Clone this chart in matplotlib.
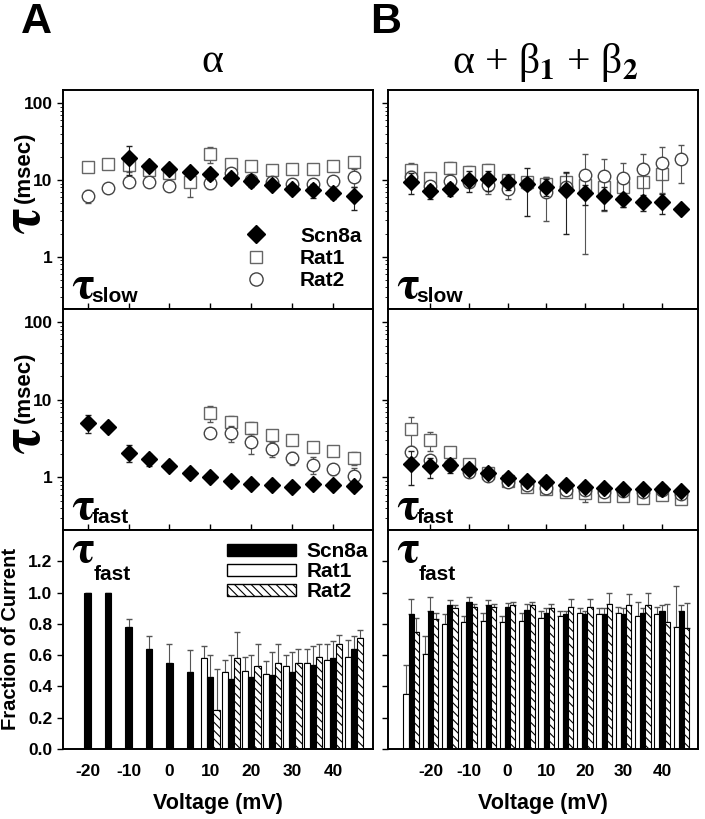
import numpy as np
import matplotlib
matplotlib.use('Agg')
import matplotlib.pyplot as plt
from matplotlib.patches import Patch
from matplotlib.lines import Line2D
from matplotlib.ticker import FixedLocator, LogLocator, NullFormatter

plt.rcParams['font.family'] = ['Liberation Sans', 'DejaVu Sans']
plt.rcParams['font.weight'] = 'bold'
plt.rcParams['mathtext.fontset'] = 'stix'
plt.rcParams['hatch.linewidth'] = 0.8
SERIF = ['Liberation Serif', 'DejaVu Serif']
TAU = r'$\mathrm{\tau}$'
nan = np.nan

# ---- data ----
volt_a = [-20, -15, -10, -5, 0, 5, 10, 15, 20, 25, 30, 35, 40, 45]
volt_b = [-25, -20, -15, -10, -5, 0, 5, 10, 15, 20, 25, 30, 35, 40, 45]

# tau slow, alpha only
slow_a_scn = [nan, nan, 19.5, 15.2, 13.8, 12.8, 11.9, 10.7, 9.7, 8.6, 7.6, 7.3, 6.7, 6.1]
slow_a_scn_err = [nan, nan, 8, 2, 1.5, 1.5, 2, 1.5, 1.5, 1, 1, 1.5, 1, 2]
slow_a_rat1 = [14.6, 16.1, 15.7, 13.5, 12.4, 9.5, 21.6, 16.0, 15.2, 13.4, 13.8, 14.0, 15.2, 17.3]
slow_a_rat1_err = [1, 1, 3, 1.5, 1, 3.5, 5, 1.5, 2, 1, 1, 1.5, 1.5, 2]
slow_a_rat2 = [6.25, 7.9, 9.3, 9.4, 8.4, nan, 9.05, 12.2, 10.0, 9.5, 9.0, 8.9, 9.8, 11.0]
slow_a_rat2_err = [1.2, 0.5, 0.5, 0.5, 1, nan, 1.5, 1.5, 1, 1, 1, 1.5, 1, 3]

# tau slow, alpha + beta1 + beta2
slow_b_scn = [9.5, 7.2, 7.6, 10.0, 10.2, 9.5, 8.9, 8.2, 7.4, 6.7, 6.1, 5.66, 5.1, 5.1, 4.2]
slow_b_scn_err = [3, 1.5, 1.5, 3, 3, 2, 5.5, 2, 5.4, 2, 2, 1.2, 1.2, 1.5, 0.3]
slow_b_rat1 = [13.5, 10.5, 14.2, 12.8, 13.5, 10.0, 9.5, 9.0, 9.5, 8.6, 8.2, 8.2, 9.5, 11.9, nan]
slow_b_rat1_err = [3, 1, 3, 2.5, 2.5, 1, 1, 2, 3, 1, 1, 1, 1, 7, nan]
slow_b_rat2 = [11.0, 8.4, 9.8, 9.5, 8.6, 7.6, 9.0, 7.0, 8.2, 11.6, 11.3, 10.5, 13.8, 16.8, 18.8]
slow_b_rat2_err = [2, 1, 2, 1.5, 2, 2, 1, 4.1, 1, 10.5, 7.3, 6, 8, 10, 9.7]

# tau fast, alpha only
fast_a_scn = [5.07, 4.5, 2.09, 1.71, 1.39, 1.14, 1.01, 0.905, 0.83, 0.79, 0.76, 0.83, 0.79, 0.77]
fast_a_scn_err = [1.3, 0.3, 0.5, 0.3, 0.1, 0.05, 0.05, 0.05, 0.05, 0.05, 0.05, 0.05, 0.05, 0.1]
fast_a_rat1 = [nan, nan, nan, nan, nan, nan, 6.7, 5.2, 4.29, 3.51, 3.02, 2.47, 2.2, 1.8]
fast_a_rat1_err = [nan, nan, nan, nan, nan, nan, 1.5, 0.9, 0.9, 0.4, 0.3, 0.2, 0.3, 0.35]
fast_a_rat2 = [nan, nan, nan, nan, nan, nan, 3.69, 3.76, 2.82, 2.33, 1.8, 1.46, 1.27, 1.03]
fast_a_rat2_err = [nan, nan, nan, nan, nan, nan, 0.3, 0.9, 0.8, 0.5, 0.35, 0.35, 0.2, 0.3]

# tau fast, alpha + beta1 + beta2
fast_b_scn = [1.5, 1.39, 1.43, 1.3, 1.14, 0.99, 0.91, 0.87, 0.79, 0.76, 0.73, 0.71, 0.71, 0.71, 0.66]
fast_b_scn_err = [0.7, 0.4, 0.3, 0.2, 0.1, 0.08, 0.06, 0.05, 0.05, 0.1, 0.05, 0.05, 0.05, 0.05, 0.05]
fast_b_rat1 = [4.2, 3.02, 2.13, 1.5, 1.15, 0.91, 0.75, 0.71, 0.64, 0.63, 0.58, 0.57, 0.55, 0.6, 0.53]
fast_b_rat1_err = [1.8, 0.8, 0.3, 0.2, 0.1, 0.08, 0.06, 0.06, 0.06, 0.15, 0.06, 0.06, 0.08, 0.06, 0.08]
fast_b_rat2 = [2.13, 1.66, 1.43, 1.17, 1.03, 0.87, 0.79, 0.73, 0.69, 0.69, 0.64, 0.66, 0.64, 0.68, 0.61]
fast_b_rat2_err = [0.4, 0.3, 0.2, 0.1, 0.08, 0.06, 0.05, 0.05, 0.05, 0.05, 0.05, 0.05, 0.05, 0.05, 0.05]

# fraction of current carried by tau fast
frac_a_scn = [1.0, 1.0, 0.78, 0.64, 0.55, 0.49, 0.46, 0.45, 0.46, 0.47, 0.49, 0.54, 0.58, 0.64]
frac_a_scn_err = [0, 0, 0.05, 0.08, 0.12, 0.14, 0.14, 0.15, 0.14, 0.15, 0.13, 0.12, 0.11, 0.08]
frac_a_rat1 = [nan, nan, nan, nan, nan, nan, 0.58, 0.49, 0.50, 0.48, 0.53, 0.55, 0.57, 0.59]
frac_a_rat1_err = [nan, nan, nan, nan, nan, nan, 0.08, 0.08, 0.09, 0.08, 0.07, 0.09, 0.10, 0.11]
frac_a_rat2 = [nan, nan, nan, nan, nan, nan, 0.25, 0.58, 0.53, 0.55, 0.55, 0.59, 0.67, 0.71]
frac_a_rat2_err = [nan, nan, nan, nan, nan, nan, 0.26, 0.17, 0.14, 0.12, 0.09, 0.08, 0.06, 0.05]

frac_b_rat1 = [0.35, 0.61, 0.80, 0.81, 0.82, 0.81, 0.82, 0.84, 0.85, 0.87, 0.86, 0.87, 0.85, 0.86, 0.78]
frac_b_rat1_err = [0.19, 0.11, 0.06, 0.04, 0.05, 0.04, 0.05, 0.04, 0.03, 0.03, 0.04, 0.04, 0.09, 0.05, 0.26]
frac_b_scn = [0.86, 0.88, 0.92, 0.94, 0.92, 0.905, 0.89, 0.87, 0.86, 0.86, 0.86, 0.86, 0.87, 0.88, 0.88]
frac_b_scn_err = [0.10, 0.09, 0.03, 0.03, 0.03, 0.03, 0.04, 0.03, 0.02, 0.02, 0.04, 0.04, 0.03, 0.04, 0.04]
frac_b_rat2 = [0.75, 0.83, 0.90, 0.91, 0.91, 0.92, 0.92, 0.90, 0.91, 0.91, 0.93, 0.92, 0.92, 0.815, 0.775]
frac_b_rat2_err = [0.09, 0.04, 0.02, 0.02, 0.02, 0.02, 0.02, 0.03, 0.05, 0.05, 0.07, 0.07, 0.08, 0.11, 0.16]

xticks = [-20, -10, 0, 10, 20, 30, 40]

# ---- figure ----
W, H = 705, 819
fig = plt.figure(figsize=(7.05, 8.19), dpi=100)


def px_axes(x0, y0, x1, y1):
    return fig.add_axes([x0 / W, 1 - y1 / H, (x1 - x0) / W, (y1 - y0) / H])


cols = [(63, 373), (388, 698)]
rows = [(90, 309), (309, 530), (530, 749)]
xlims = [(-26, 49.7), (-31, 49.3)]

axes = [[px_axes(c[0], r[0], c[1], r[1]) for c in cols] for r in rows]

for r in range(3):
    for c in range(2):
        ax = axes[r][c]
        ax.set_xlim(*xlims[c])
        ax.xaxis.set_major_locator(FixedLocator(xticks))
        for s in ax.spines.values():
            s.set_linewidth(1.4)
        ax.tick_params(axis='x', direction='in', length=4, width=1, labelsize=12.5)
        ax.tick_params(axis='y', which='major', direction='out', length=4, width=1, labelsize=12.5)
        ax.tick_params(axis='y', which='minor', direction='out', length=2, width=0.6)
        if r < 2:
            ax.tick_params(axis='x', labelbottom=False)
            ax.set_yscale('log')
            ax.set_ylim(0.21, 148)
            ax.yaxis.set_major_locator(FixedLocator([1, 10, 100]))
            ax.yaxis.set_minor_locator(LogLocator(base=10, subs=np.arange(2, 10)))
            ax.yaxis.set_minor_formatter(NullFormatter())
            ax.set_yticklabels(['1', '10', '100'] if c == 0 else [])
        else:
            ax.set_ylim(0, 1.4)
            ax.yaxis.set_major_locator(FixedLocator([0, 0.2, 0.4, 0.6, 0.8, 1.0, 1.2]))
            if c == 0:
                ax.set_yticklabels(['0.0', '0.2', '0.4', '0.6', '0.8', '1.0', '1.2'])
            else:
                ax.set_yticklabels([])
            ax.set_xticklabels([str(t) for t in xticks])
            ax.tick_params(axis='x', pad=11)
            ax.set_xlabel('Voltage (mV)', fontsize=15.5, fontweight='bold', labelpad=10)


def tau_series(ax, v, scn, scn_e, r1, r1_e, r2, r2_e):
    ax.errorbar(v, r1, yerr=r1_e, fmt='s', ms=8, mfc='white', mec='#666666', mew=1,
                ecolor='#555555', elinewidth=0.8, capsize=2.5, zorder=2)
    ax.errorbar(v, r2, yerr=r2_e, fmt='o', ms=9, mfc='white', mec='#444444', mew=1,
                ecolor='#555555', elinewidth=0.8, capsize=2.5, zorder=3)
    ax.errorbar(v, scn, yerr=scn_e, fmt='D', ms=8.5, mfc='black', mec='black',
                ecolor='#222222', elinewidth=0.8, capsize=2.5, zorder=4)


tau_series(axes[0][0], volt_a, slow_a_scn, slow_a_scn_err, slow_a_rat1, slow_a_rat1_err,
           slow_a_rat2, slow_a_rat2_err)
tau_series(axes[0][1], volt_b, slow_b_scn, slow_b_scn_err, slow_b_rat1, slow_b_rat1_err,
           slow_b_rat2, slow_b_rat2_err)
tau_series(axes[1][0], volt_a, fast_a_scn, fast_a_scn_err, fast_a_rat1, fast_a_rat1_err,
           fast_a_rat2, fast_a_rat2_err)
tau_series(axes[1][1], volt_b, fast_b_scn, fast_b_scn_err, fast_b_rat1, fast_b_rat1_err,
           fast_b_rat2, fast_b_rat2_err)

HATCH = '\\\\\\\\'


def frac_bars(ax, v, w, scn, scn_e, r1, r1_e, r2, r2_e):
    v = np.array(v, dtype=float)
    groups = [(v - w, r1, r1_e, dict(color='white', edgecolor='black')),
              (v, scn, scn_e, dict(color='black', edgecolor='black')),
              (v + w, r2, r2_e, dict(color='white', edgecolor='black', hatch=HATCH))]
    for x, y, e, kw in groups:
        y = np.array(y, dtype=float)
        e = np.array(e, dtype=float)
        ax.bar(x, y, width=w, linewidth=0.8, zorder=2, **kw)
        ax.errorbar(x, y, yerr=[np.zeros_like(e), e], fmt='none', ecolor='#555555',
                    elinewidth=0.8, capsize=2.5, zorder=1)


frac_bars(axes[2][0], volt_a, 1.5, frac_a_scn, frac_a_scn_err, frac_a_rat1, frac_a_rat1_err,
          frac_a_rat2, frac_a_rat2_err)
frac_bars(axes[2][1], volt_b, 1.35, frac_b_scn, frac_b_scn_err, frac_b_rat1, frac_b_rat1_err,
          frac_b_rat2, frac_b_rat2_err)

# legends
ax = axes[0][0]
handles = [Line2D([], [], ls='none', marker='D', ms=9, mfc='black', mec='black'),
           Line2D([], [], ls='none', marker='s', ms=8.5, mfc='white', mec='#666666'),
           Line2D([], [], ls='none', marker='o', ms=9.5, mfc='white', mec='#444444')]
ax.legend(handles, ['Scn8a', 'Rat1', 'Rat2'], loc='lower right', bbox_to_anchor=(1.01, 0.02),
          frameon=False, prop={'size': 15, 'weight': 'bold'}, handletextpad=1.1,
          labelspacing=0.15, borderaxespad=0.3)

ax = axes[2][0]
handles = [Patch(facecolor='black', edgecolor='black'),
           Patch(facecolor='white', edgecolor='black'),
           Patch(facecolor='white', edgecolor='black', hatch=HATCH)]
ax.legend(handles, ['Scn8a', 'Rat1', 'Rat2'], loc='upper right', bbox_to_anchor=(1.03, 1.01),
          frameon=False, prop={'size': 15, 'weight': 'bold'}, handlelength=3.3,
          handleheight=0.55, handletextpad=0.5, labelspacing=0.05, borderaxespad=0.3)


# tau labels inside panels
def tau_label(ax, x, y, sub):
    ax.text(x, y, TAU, transform=ax.transAxes, fontsize=34, fontweight='normal',
            ha='left', va='baseline')
    ax.text(x + 0.066, y - 0.018, sub, transform=ax.transAxes, fontsize=15,
            fontweight='bold', ha='left', va='baseline')


tau_label(axes[0][0], 0.025, 0.05, 'slow')
tau_label(axes[0][1], 0.025, 0.05, 'slow')
tau_label(axes[1][0], 0.025, 0.05, 'fast')
tau_label(axes[1][1], 0.025, 0.05, 'fast')
tau_label(axes[2][0], 0.025, 0.855, '')
tau_label(axes[2][1], 0.025, 0.855, '')
for ax in axes[2]:
    ax.text(0.1, 0.77, 'fast', transform=ax.transAxes, fontsize=15, fontweight='bold',
            ha='left', va='baseline')


# y labels
def tau_ylabel(ax, yc):
    ax.text(-0.12, yc, TAU, transform=ax.transAxes, fontsize=40, fontweight='normal',
            rotation=90, ha='center', va='center')
    ax.text(-0.125, yc + 0.085, '(msec)', transform=ax.transAxes, fontsize=16,
            fontweight='bold', rotation=90, ha='center', va='bottom')


tau_ylabel(axes[0][0], 0.40)
tau_ylabel(axes[1][0], 0.40)
axes[2][0].set_ylabel('Fraction of Current', fontsize=14.5, fontweight='bold', labelpad=6)

# panel letters and titles
fig.text(36 / W, 1 - 22 / H, 'A', fontsize=31, fontweight='bold', ha='center', va='center')
fig.text(386 / W, 1 - 22 / H, 'B', fontsize=31, fontweight='bold', ha='center', va='center')
fig.text(212 / W, 1 - 62 / H, '\u03b1', family=SERIF, fontweight='normal', fontsize=30,
         ha='center', va='center')
fig.text(545 / W, 1 - 62 / H, '\u03b1 + \u03b2$_1$ + \u03b2$_2$', family=SERIF,
         fontweight='normal', fontsize=30, ha='center', va='center')

fig.savefig('out.png', dpi=100)
